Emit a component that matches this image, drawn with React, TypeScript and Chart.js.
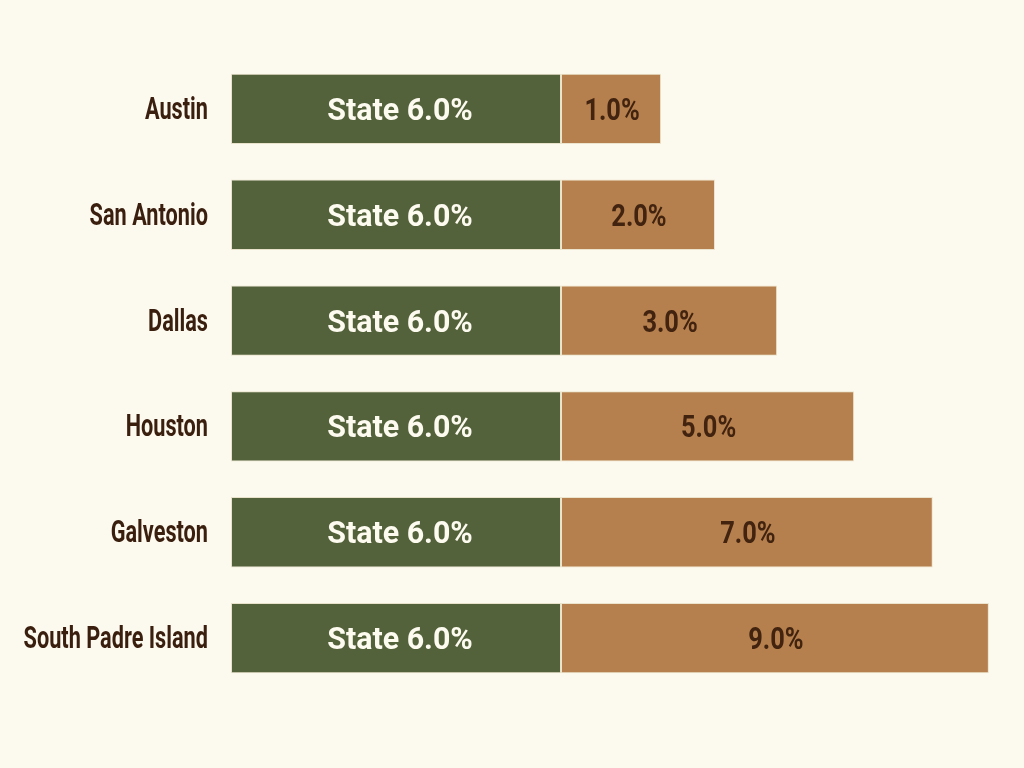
import { useEffect, useRef } from "react";
import Chart from "chart.js/auto";

const cities = ["Austin", "San Antonio", "Dallas", "Houston", "Galveston", "South Padre Island"];
const stateRates = [6, 6, 6, 6, 6, 6];
const localRates = [1, 2, 3, 5, 7, 9];
// the local segments in the picture are not drawn to the same scale as their labels,
// so their lengths (in the state segment's units) are read off separately
const localBarLengths = [1.82, 2.8, 3.93, 5.33, 6.76, 7.78];

const FONT = 'Roboto, "DejaVu Sans", sans-serif';
const BG = "#fcf9ee";
const DARK = "#3a1f0e";

// draws text squeezed horizontally to mimic a condensed face
function drawText(ctx: CanvasRenderingContext2D, text: string, x: number, y: number, squeeze: number, align: CanvasTextAlign) {
  ctx.save();
  ctx.translate(x, y);
  ctx.scale(squeeze, 1);
  ctx.textAlign = align;
  ctx.textBaseline = "alphabetic";
  ctx.fillText(text, 0, 0);
  ctx.restore();
}

const labelsPlugin = {
  id: "labelsPlugin",
  afterDatasetsDraw(chart: any) {
    const ctx = chart.ctx;
    ctx.save();
    // category names along the y axis
    const yScale = chart.scales.y;
    ctx.font = `bold 31px ${FONT}`;
    ctx.fillStyle = DARK;
    cities.forEach((name, j) => {
      const y = yScale.getPixelForValue(j);
      drawText(ctx, name, chart.chartArea.left - 23, y + 10, 0.7, "right");
    });
    // values inside the segments
    chart.data.datasets.forEach((ds: any, i: number) => {
      const meta = chart.getDatasetMeta(i);
      meta.data.forEach((bar: any, j: number) => {
        const { x, y, base } = bar.getProps(["x", "y", "base"], true);
        const cx = (x + base) / 2;
        if (i === 0) {
          ctx.font = `bold 31px ${FONT}`;
          ctx.fillStyle = "#fdfaf0";
          drawText(ctx, `State ${stateRates[j].toFixed(1)}%`, cx + 4, y + 11, 0.98, "center");
        } else {
          ctx.font = `bold 31px ${FONT}`;
          ctx.fillStyle = "#42230f";
          drawText(ctx, `${localRates[j].toFixed(1)}%`, cx + 1, y + 11, 0.82, "center");
        }
      });
    });
    ctx.restore();
  },
};

export default function App() {
  const ref = useRef<HTMLCanvasElement>(null);

  useEffect(() => {
    if (!ref.current) return;
    const chart = new Chart(ref.current, {
      type: "bar",
      data: {
        labels: cities,
        datasets: [
          {
            label: "State",
            data: stateRates,
            backgroundColor: "#53623a",
            borderColor: "#e8e2cb",
            borderWidth: 1,
            borderSkipped: false,
            categoryPercentage: 1,
            barPercentage: 0.665,
          },
          {
            label: "Local",
            data: localBarLengths,
            backgroundColor: "#b5804d",
            borderColor: "#ece4cc",
            borderWidth: 1,
            borderSkipped: false,
            categoryPercentage: 1,
            barPercentage: 0.665,
          },
        ],
      },
      options: {
        indexAxis: "y",
        animation: false,
        responsive: false,
        layout: { padding: { top: 56, bottom: 77, left: 0, right: 23 } },
        plugins: {
          legend: { display: false },
          tooltip: { enabled: false },
        },
        scales: {
          x: {
            stacked: true,
            min: 0,
            max: 14,
            display: false,
          },
          y: {
            stacked: true,
            grid: { display: false, drawTicks: false },
            border: { display: false },
            ticks: { display: false },
            afterFit: (scale: any) => {
              scale.width = 231;
            },
          },
        },
      },
      plugins: [labelsPlugin],
    });
    return () => {
      chart.destroy();
    };
  }, []);

  return (
    <div style={{ position: "fixed", left: 0, top: 0, width: 1024, height: 768, background: BG }}>
      <canvas ref={ref} width={1024} height={768} style={{ width: 1024, height: 768 }} />
    </div>
  );
}
